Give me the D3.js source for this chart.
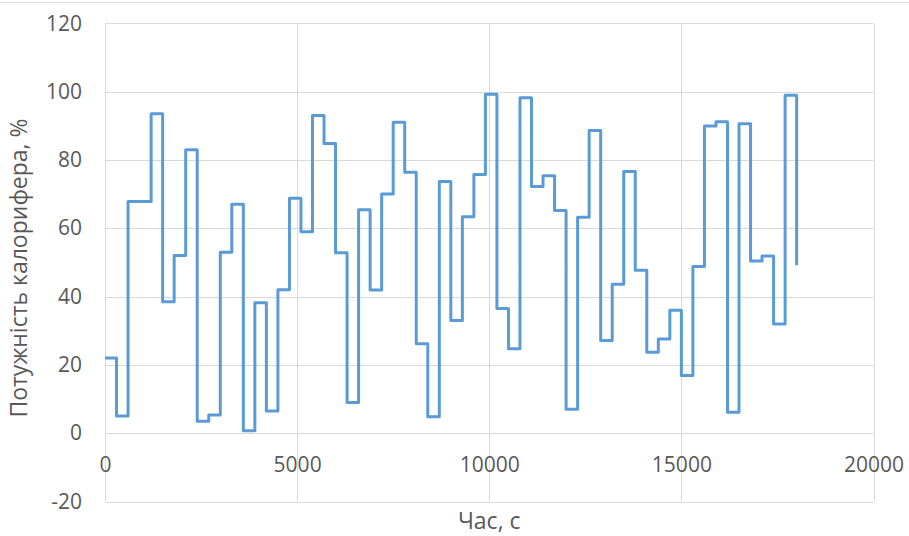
<!DOCTYPE html>
<html>
<head>
<meta charset="utf-8">
<script src="https://cdn.jsdelivr.net/npm/d3@7"></script>
<style>
  body { margin: 0; background: #fff; }
  text { font-family: "Open Sans", sans-serif; fill: #595959; }
</style>
</head>
<body>
<div id="chart"></div>
<script>
  // time, s (each step lasts 300 s)
  var times = [0, 300, 600, 900, 1200, 1500, 1800, 2100, 2400, 2700,
    3000, 3300, 3600, 3900, 4200, 4500, 4800, 5100, 5400, 5700,
    6000, 6300, 6600, 6900, 7200, 7500, 7800, 8100, 8400, 8700,
    9000, 9300, 9600, 9900, 10200, 10500, 10800, 11100, 11400, 11700,
    12000, 12300, 12600, 12900, 13200, 13500, 13800, 14100, 14400, 14700,
    15000, 15300, 15600, 15900, 16200, 16500, 16800, 17100, 17400, 17700,
    18000];

  // heater power, %
  var power = [22, 5, 67.8, 67.8, 93.5, 38.5, 52, 83, 3.5, 5.3,
    53, 67, 0.7, 38.2, 6.5, 42, 68.8, 59, 93, 84.8,
    52.8, 9, 65.4, 41.9, 70, 91, 76.4, 26.2, 4.8, 73.7,
    33, 63.4, 75.7, 99.2, 36.5, 24.7, 98.2, 72.2, 75.4, 65.2,
    7, 63.2, 88.6, 27.1, 43.6, 76.6, 47.7, 23.7, 27.6, 36,
    16.9, 48.8, 89.9, 91.2, 6.1, 90.6, 50.4, 51.9, 32, 98.9,
    49.2];

  var xTicks = [0, 5000, 10000, 15000, 20000],
    yTicks = [-20, 0, 20, 40, 60, 80, 100, 120];

  var width = 909,
    height = 536,
    plotL = 105,
    plotR = 873.5,
    plotT = 23.3,
    plotB = 501.5,
    gridColor = '#d9d9d9',
    lineColor = '#5b9bd5';

  var svg = d3.select('#chart')
    .append('svg')
    .attr('width', width)
    .attr('height', height);

  // thin chart frame line at the top
  svg.append('line')
    .attr('x1', 0).attr('x2', width)
    .attr('y1', 2.5).attr('y2', 2.5)
    .attr('stroke', gridColor);

  var x = d3.scaleLinear().domain([0, 20000]).range([plotL, plotR]);
  var y = d3.scaleLinear().domain([-20, 120]).range([plotB, plotT]);

  // grid
  svg.append('g').selectAll('line')
    .data(yTicks)
    .join('line')
    .attr('x1', plotL).attr('x2', plotR)
    .attr('y1', function(d){ return Math.round(y(d)) + 0.5; })
    .attr('y2', function(d){ return Math.round(y(d)) + 0.5; })
    .attr('stroke', gridColor);

  svg.append('g').selectAll('line')
    .data(xTicks)
    .join('line')
    .attr('x1', function(d){ return Math.round(x(d)) + 0.5; })
    .attr('x2', function(d){ return Math.round(x(d)) + 0.5; })
    .attr('y1', plotT).attr('y2', plotB)
    .attr('stroke', gridColor);

  // axes (labels only), plain hyphen for negatives like the original
  var plain = function(d){ return String(d); };

  var yAxis = svg.append('g')
    .attr('transform', 'translate(' + plotL + ',0)')
    .call(d3.axisLeft(y).tickValues(yTicks).tickSize(0).tickPadding(23)
      .tickFormat(plain));

  var xAxis = svg.append('g')
    .attr('transform', 'translate(0,' + y(0) + ')')
    .call(d3.axisBottom(x).tickValues(xTicks).tickSize(0).tickPadding(23.5)
      .tickFormat(plain));

  [yAxis, xAxis].forEach(function(g){
    g.select('.domain').remove();
    g.selectAll('text')
      .attr('fill', '#595959')
      .style('font-size', '21px')
      .style('font-family', '"Open Sans", sans-serif');
  });

  // step line
  var pts = times.map(function(t, i){ return [t, power[i]]; });

  svg.append('path')
    .datum(pts)
    .attr('fill', 'none')
    .attr('stroke', lineColor)
    .attr('stroke-width', 3)
    .attr('stroke-linejoin', 'round')
    .attr('d', d3.line()
      .x(function(d){ return x(d[0]); })
      .y(function(d){ return y(d[1]); })
      .curve(d3.curveStepAfter));

  // axis titles
  svg.append('text')
    .attr('transform', 'translate(27,268) rotate(-90)')
    .attr('text-anchor', 'middle')
    .style('font-size', '23px')
    .text('Потужність калорифера, %');

  svg.append('text')
    .attr('x', (plotL + plotR) / 2)
    .attr('y', 529)
    .attr('text-anchor', 'middle')
    .style('font-size', '23px')
    .text('Час, с');
</script>
</body>
</html>
